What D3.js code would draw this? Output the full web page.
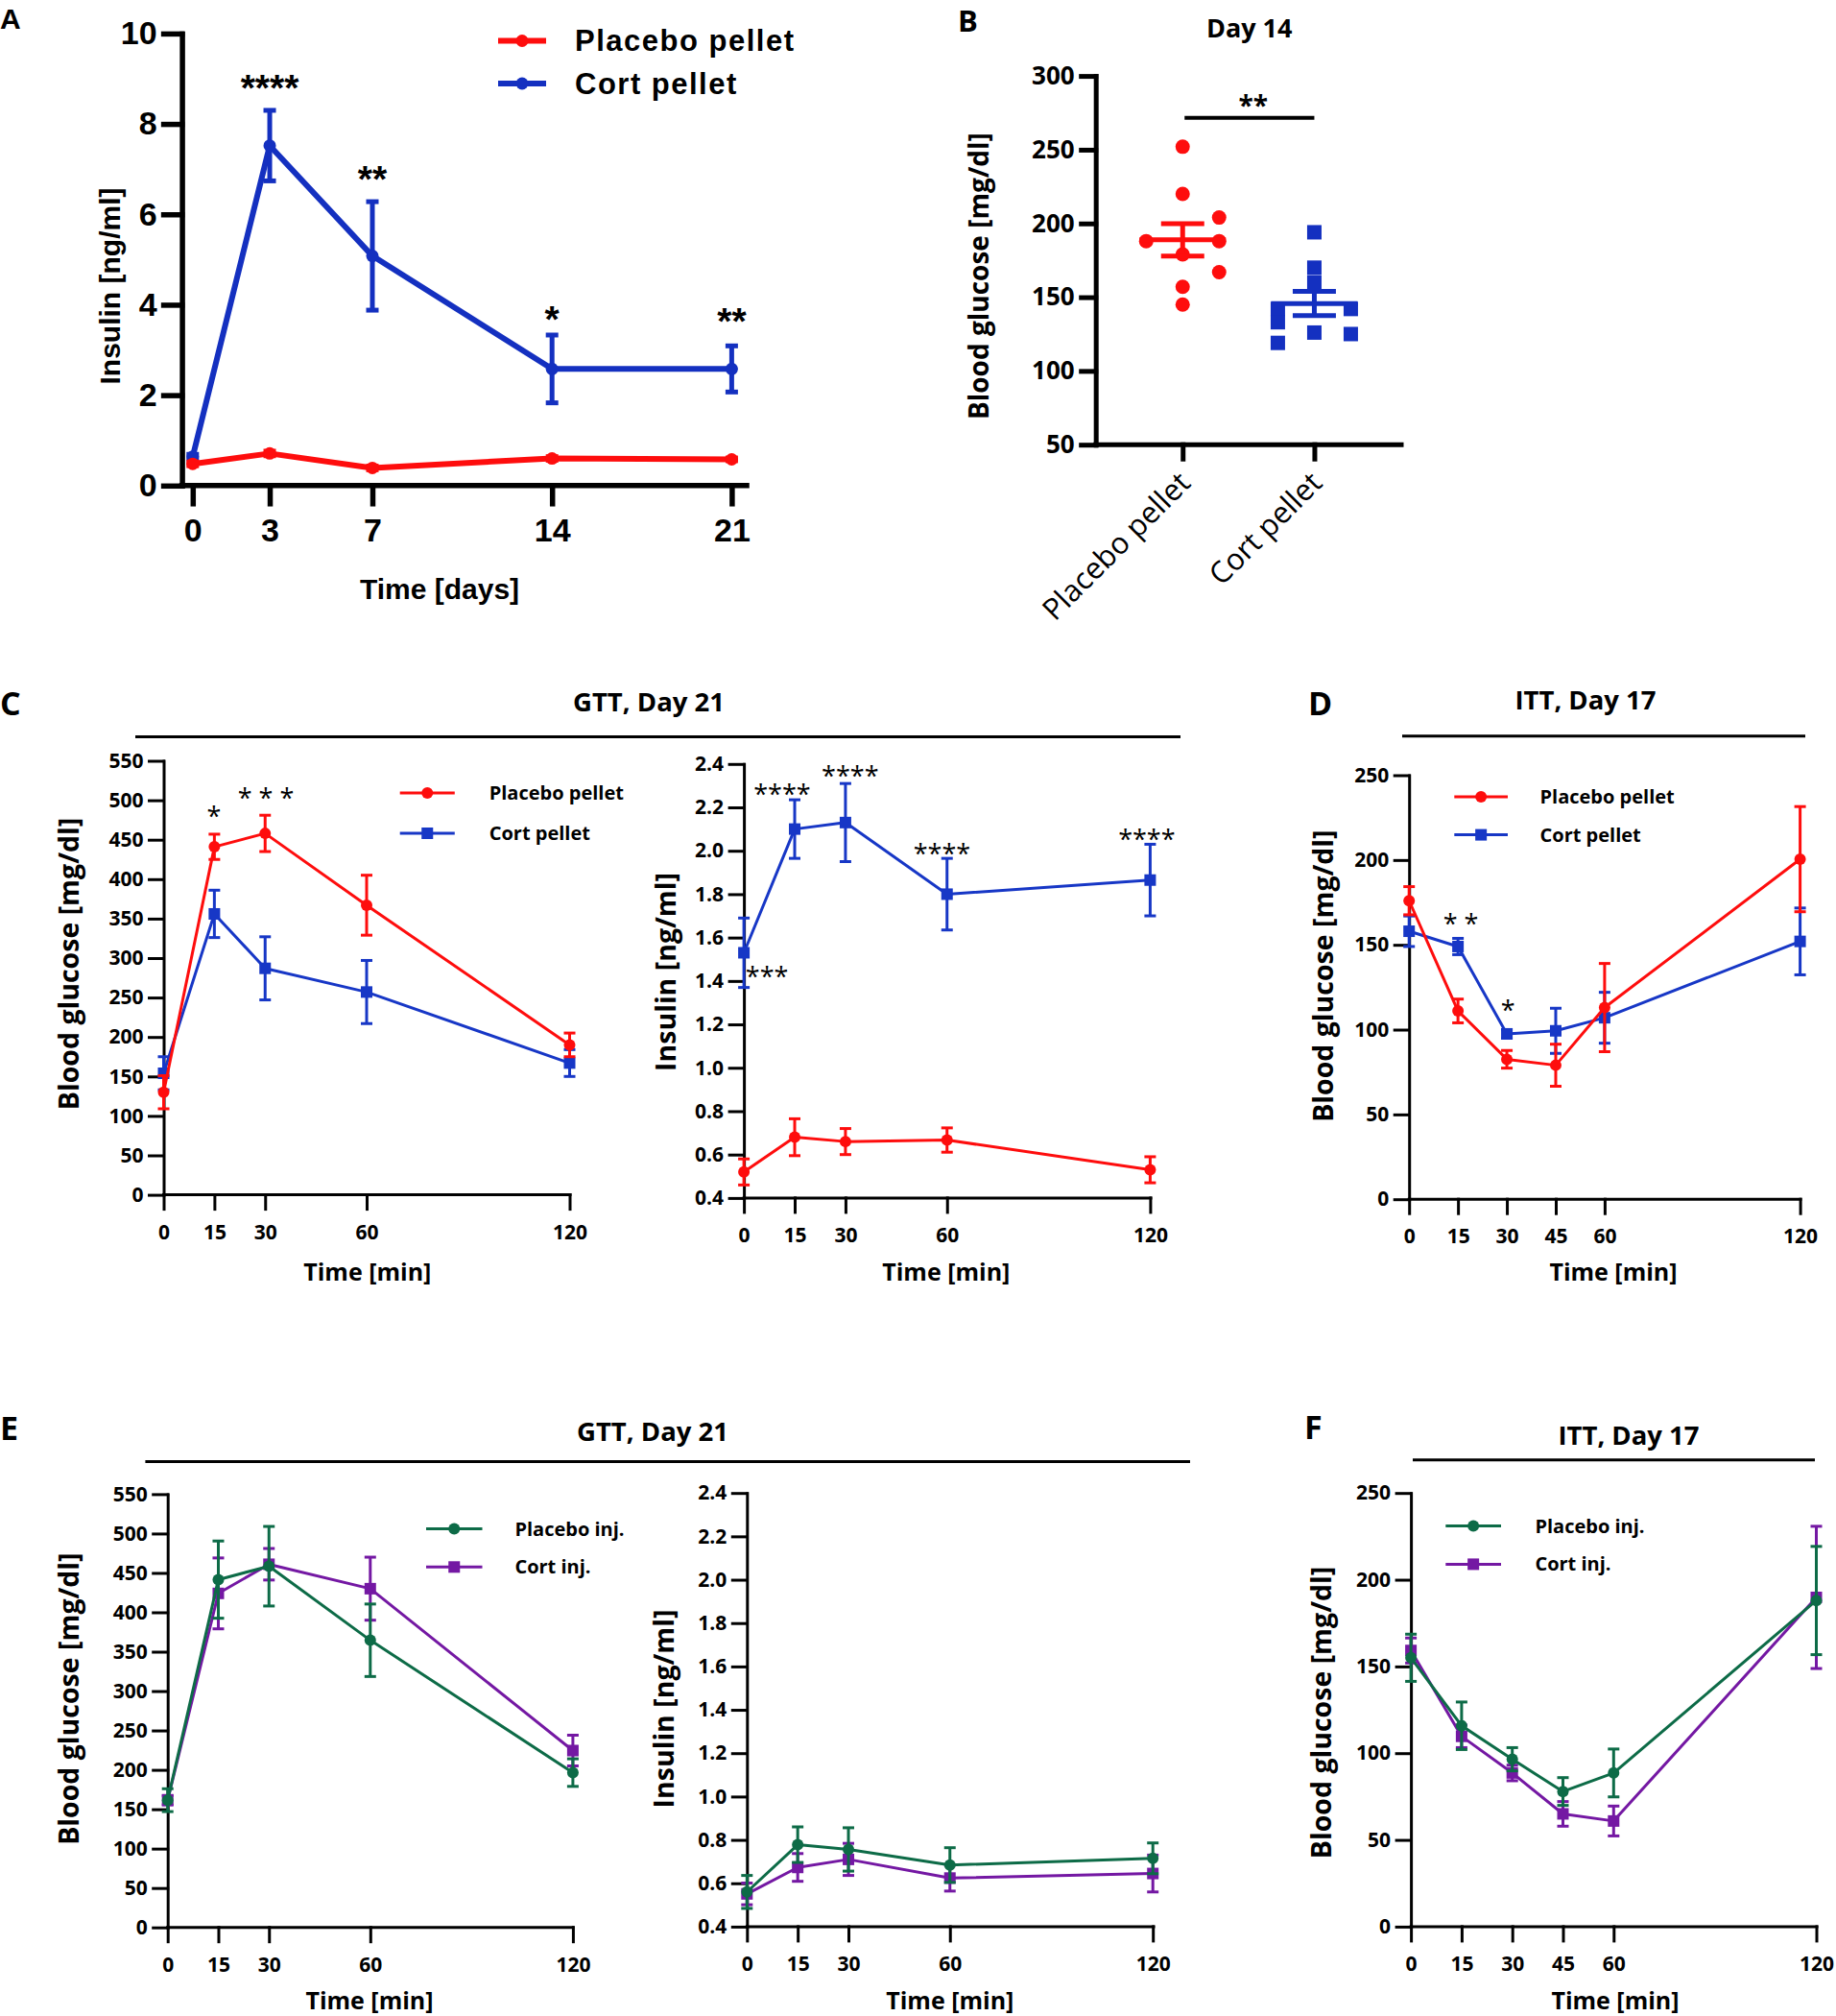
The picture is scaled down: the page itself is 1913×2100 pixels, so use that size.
<!DOCTYPE html>
<html>
<head>
<meta charset="utf-8">
<script src="https://cdn.jsdelivr.net/npm/d3@7"></script>
<style>
body { margin: 0; background: #fff; }
</style>
</head>
<body>
<svg id="fig" width="1913" height="2100"></svg>
<script>
// ------------------------------------------------------------------
//  data
// ------------------------------------------------------------------
// A : insulin over the pellet period
const daysA = [0, 3, 7, 14, 21]
const insPlaceboA = [0.48, 0.71, 0.39, 0.60, 0.58]
const insPlaceboA_sem = [0.04, 0.05, 0.04, 0.04, 0.03]
const insCortA = [0.64, 7.52, 5.08, 2.58, 2.58]
const insCortA_sem = [0.05, 0.78, 1.20, 0.75, 0.51]
const starsA = [[3, 8.95, "****"], [7, 6.92, "**"], [14, 3.82, "*"], [21, 3.78, "**"]]

// B : day 14 blood glucose, single animals (slot = swarm column)
const groupsB = ["Placebo pellet", "Cort pellet"]
const glucPlaceboB = [252, 220, 204, 188, 188, 179, 167, 157, 145]
const slotPlaceboB = [0, 0, 1, -1, 1, 0, 1, 0, 0]
const glucCortB = [194, 170, 160, 142, 142, 133, 126, 125, 119]
const slotCortB = [0, 0, 0, -1, 1, -1, 0, 1, -1]

// C : GTT day 21, pellets
const timesGTT = [0, 15, 30, 60, 120]
const glucPlaceboC = [130, 441, 458, 367, 190]
const glucPlaceboC_sem = [21, 16, 23, 38, 15]
const glucCortC = [154, 356, 287, 257, 167]
const glucCortC_sem = [21, 30, 40, 40, 17]
const insPlaceboC = [0.52, 0.68, 0.66, 0.667, 0.53]
const insPlaceboC_sem = [0.06, 0.085, 0.06, 0.056, 0.06]
const insCortC = [1.53, 2.10, 2.13, 1.80, 1.865]
const insCortC_sem = [0.16, 0.135, 0.18, 0.165, 0.165]
const starsCglu = [[14.9, 487, "*"], [30.2, 510, "* * *"]]
const starsCins = [[6.8, 1.445, "***"], [11.3, 2.289, "****"], [31.4, 2.372, "****"], [58.5, 2.014, "****"], [119, 2.08, "****"]]

// D : ITT day 17, pellets
const timesITT = [0, 15, 30, 45, 60, 120]
const glucPlaceboD = [176, 111, 82.5, 79, 113, 200.5]
const glucPlaceboD_sem = [8.3, 7, 5.2, 12.4, 26, 31]
const glucCortD = [158, 149, 97.5, 99.3, 107, 152]
const glucCortD_sem = [9, 4.8, 2.5, 13.3, 15, 19.7]
const starsD = [[15.85, 166, "* *"], [30.3, 115, "*"]]

// E : GTT day 21, injections
const glucPlaceboE = [161.5, 441.5, 458.5, 364.5, 196.5]
const glucPlaceboE_sem = [14.5, 49, 50.5, 46, 17.5]
const glucCortE = [161.5, 424, 461, 430, 224.5]
const glucCortE_sem = [6, 45, 20, 40, 19.5]
const insPlaceboE = [0.56, 0.778, 0.756, 0.684, 0.715]
const insPlaceboE_sem = [0.076, 0.082, 0.1, 0.08, 0.071]
const insCortE = [0.551, 0.673, 0.71, 0.624, 0.645]
const insCortE_sem = [0.05, 0.064, 0.074, 0.06, 0.085]

// F : ITT day 17, injections
const glucPlaceboF = [155, 115.8, 96.5, 77.9, 88.6, 188]
const glucPlaceboF_sem = [13.6, 13.7, 6.7, 8, 13.8, 31.2]
const glucCortF = [159.2, 109.7, 88.6, 65, 60.9, 189.8]
const glucCortF_sem = [7.2, 6.5, 4.5, 7.1, 8.6, 41]

const ticksGlu550 = d3.range(0, 551, 50)
const ticksIns24 = d3.range(0.4, 2.41, 0.2)
const ticksGlu250 = d3.range(0, 251, 50)

// colours
const RED = "#fe0d0d"
const BLUE_A = "#1430c0"
const BLUE = "#1737c6"
const GREEN = "#0d6b47"
const PURPLE = "#7418a3"

const HELV = '"Liberation Sans", Arial, Helvetica, sans-serif'
const SANS = '"Open Sans", "DejaVu Sans", sans-serif'

const svg = d3.select("#fig")

// ------------------------------------------------------------------
function marker (sel, shape, cx, cy, size, color)
{
	if (shape == "circle")
		sel.append("circle").attr("cx", cx).attr("cy", cy).attr("r", size).attr("fill", color)
	else
		sel.append("rect").attr("x", cx - size).attr("y", cy - size)
			.attr("width", 2 * size).attr("height", 2 * size).attr("fill", color)
}

function styleAxis (a, p)
{
	a.selectAll("path,line").attr("stroke", "#000").attr("stroke-width", p.axisW)
		.attr("stroke-linecap", "square")
	a.selectAll("text").attr("fill", "#000")
		.style("font-family", p.font).style("font-size", p.tickFs + "px")
		.style("font-weight", "bold")
}

function label (g, txt, x, y, font, size, weight, rotate, anchor)
{
	const t = g.append("text")
		.attr("transform", "translate(" + x + "," + y + ")" + (rotate ? " rotate(" + rotate + ")" : ""))
		.attr("text-anchor", anchor || "middle")
		.attr("dy", "0.35em")
		.style("font-family", font).style("font-size", size + "px")
		.style("font-weight", weight).text(txt)
	return t
}

// ------------------------------------------------------------------
// time course panel with mean +- SEM
function xyPanel (p)
{
	const g = svg.append("g")
	const x = d3.scaleLinear().domain(p.xDomain).range(p.xRange)
	const y = d3.scaleLinear().domain(p.yDomain).range(p.yRange)

	const yAxis = g.append("g")
		.attr("transform", "translate(" + p.yAxisX + ",0)")
		.call(d3.axisLeft(y).tickValues(p.yTicks).tickFormat(p.yFormat)
			.tickSize(p.tickLen).tickSizeOuter(0).tickPadding(p.yPad))
	const xAxis = g.append("g")
		.attr("transform", "translate(0," + p.yRange[0] + ")")
		.call(d3.axisBottom(x).tickValues(p.xValues).tickFormat(d3.format("d"))
			.tickSize(p.tickLen).tickSizeOuter(0).tickPadding(p.xPad))
	xAxis.select(".domain").attr("d", "M" + p.yAxisX + ",0H" + p.xEnd)
	styleAxis(yAxis, p)
	styleAxis(xAxis, p)

	// series, first one drawn last (on top)
	p.series.slice().reverse().forEach(function (s) {
		const pts = p.xValues.map((t, i) => ({t: t, v: s.values[i], e: s.sem[i]}))
		g.append("path").datum(pts)
			.attr("fill", "none").attr("stroke", s.color).attr("stroke-width", p.lineW)
			.attr("stroke-linejoin", "round")
			.attr("d", d3.line().x(d => x(d.t)).y(d => y(d.v)))
		const eb = g.append("g").attr("stroke", s.color).attr("stroke-width", p.errW)
		pts.forEach(function (d) {
			const cx = x(d.t)
			eb.append("line").attr("x1", cx).attr("x2", cx)
				.attr("y1", y(d.v - d.e)).attr("y2", y(d.v + d.e))
			;[d.v - d.e, d.v + d.e].forEach(function (v) {
				eb.append("line").attr("x1", cx - p.capW).attr("x2", cx + p.capW)
					.attr("y1", y(v)).attr("y2", y(v))
			})
		})
		const mk = g.append("g")
		pts.forEach(d => marker(mk, s.shape, x(d.t), y(d.v), p.mSize, s.color))
	})

	// legend
	if (p.legend) {
		p.series.forEach(function (s, i) {
			const ly = p.legend.y + i * p.legend.dy
			g.append("line").attr("x1", p.legend.x1).attr("x2", p.legend.x2)
				.attr("y1", ly).attr("y2", ly)
				.attr("stroke", s.color).attr("stroke-width", p.lineW)
			marker(g, s.shape, (p.legend.x1 + p.legend.x2) / 2, ly, p.mSize, s.color)
			label(g, s.name, p.legend.tx, ly, p.font, p.legend.fs, p.legend.weight, 0, "start")
				.style("letter-spacing", (p.legend.spacing || 0) + "px")
		})
	}

	// significance stars
	;(p.stars || []).forEach(function (st) {
		g.append("text").attr("x", x(st[0])).attr("y", y(st[1]))
			.attr("dy", p.starDy).attr("text-anchor", "middle")
			.style("font-family", p.font).style("font-size", p.starFs + "px")
			.style("font-weight", p.starWeight).text(st[2])
	})

	label(g, p.xTitle, p.xTitlePos[0], p.xTitlePos[1], p.font, p.titleFs, "bold")
	label(g, p.yTitle, p.yTitlePos[0], p.yTitlePos[1], p.font, p.yTitleFs || p.titleFs, "bold", -90)
}

// header with bold title and rule below it
function header (letter, lx, ly, title, tx, ty, x1, x2, ry)
{
	label(svg, letter, lx, ly, SANS, 34, "bold", 0, "start")
	label(svg, title, tx, ty, SANS, 27.5, "bold")
	svg.append("line").attr("x1", x1).attr("x2", x2).attr("y1", ry).attr("y2", ry)
		.attr("stroke", "#000").attr("stroke-width", 3)
}

// ------------------------------------------------------------------
// A
label(svg, "A", 0, 19, HELV, 30, "bold", 0, "start")
xyPanel({
	font: HELV, tickFs: 34, titleFs: 30, starFs: 39, starWeight: "bold", starDy: "0.52em",
	xDomain: [0, 21], xRange: [200.8, 762.4], xEnd: 778, yAxisX: 189.6,
	yDomain: [0, 10], yRange: [505.8, 34.9], yTicks: [0, 2, 4, 6, 8, 10], yFormat: d3.format("d"),
	xValues: daysA, tickLen: 19, xPad: 15, yPad: 7, axisW: 5.5,
	lineW: 6, errW: 5, capW: 6.5, mSize: 6.5,
	series: [
		{name: "Placebo pellet", color: RED, shape: "circle", values: insPlaceboA, sem: insPlaceboA_sem},
		{name: "Cort pellet", color: BLUE_A, shape: "circle", values: insCortA, sem: insCortA_sem}
	],
	legend: {x1: 519, x2: 569, y: 42.5, dy: 44.5, tx: 599, fs: 31, weight: "bold", spacing: 1.5},
	stars: starsA,
	xTitle: "Time [days]", xTitlePos: [458, 613],
	yTitle: "Insulin [ng/ml]", yTitlePos: [114, 298]
})

// ------------------------------------------------------------------
// B : scatter with mean +- SEM
;(function () {
	const g = svg.append("g")
	const p = {font: SANS, tickFs: 26, axisW: 5}
	const yAxisX = 1141.7, xEnd = 1460
	const x = d3.scalePoint().domain(groupsB).range([yAxisX, xEnd]).padding(0.66)
	const y = d3.scaleLinear().domain([50, 300]).range([463.2, 79.1])
	const yAxis = g.append("g").attr("transform", "translate(" + yAxisX + ",0)")
		.call(d3.axisLeft(y).tickValues(d3.range(50, 301, 50)).tickSize(15).tickSizeOuter(0).tickPadding(7))
	const xAxis = g.append("g").attr("transform", "translate(0," + y(50) + ")")
		.call(d3.axisBottom(x).tickSize(15).tickSizeOuter(0).tickFormat(""))
	xAxis.select(".domain").attr("d", "M" + yAxisX + ",0H" + xEnd)
	styleAxis(yAxis, p)
	styleAxis(xAxis, p)

	groupsB.forEach(function (grp) {
		const cx = x(grp)
		label(g, grp, cx - 6, y(50) + 26, SANS, 31, "normal", -45, "end")
			.attr("dy", "0.72em")
	})

	const sets = [
		{grp: groupsB[0], vals: glucPlaceboB, slot: slotPlaceboB, color: RED, shape: "circle"},
		{grp: groupsB[1], vals: glucCortB, slot: slotCortB, color: BLUE_A, shape: "rect"}
	]
	sets.forEach(function (s) {
		const cx = x(s.grp)
		s.vals.forEach((v, i) => marker(g, s.shape, cx + s.slot[i] * 38, y(v), 7.5, s.color))
		const m = d3.mean(s.vals)
		const sem = d3.deviation(s.vals) / Math.sqrt(s.vals.length)
		const eg = g.append("g").attr("stroke", s.color).attr("stroke-width", 5)
		eg.append("line").attr("x1", cx - 45).attr("x2", cx + 45).attr("y1", y(m)).attr("y2", y(m))
		eg.append("line").attr("x1", cx).attr("x2", cx).attr("y1", y(m - sem)).attr("y2", y(m + sem))
		;[m - sem, m + sem].forEach(v =>
			eg.append("line").attr("x1", cx - 22.5).attr("x2", cx + 22.5).attr("y1", y(v)).attr("y2", y(v)))
	})

	// significance bar
	g.append("line").attr("x1", x(groupsB[0]) + 2).attr("x2", x(groupsB[1]))
		.attr("y1", y(271.6)).attr("y2", y(271.6)).attr("stroke", "#000").attr("stroke-width", 4)
	g.append("text").attr("x", (x(groupsB[0]) + x(groupsB[1])) / 2 + 5).attr("y", y(271.6) - 3)
		.attr("text-anchor", "middle").style("font-family", SANS).style("font-size", "28px")
		.style("font-weight", "bold").text("**")

	label(svg, "B", 998, 22, SANS, 31, "bold", 0, "start")
	label(g, "Day 14", 1301.7, 29.6, SANS, 27, "bold")
	label(g, "Blood glucose [mg/dl]", 1020, 287.6, SANS, 28, "bold", -90)
})()

// ------------------------------------------------------------------
// common settings for C - F
const small = {
	font: SANS, tickFs: 21, titleFs: 25, yTitleFs: 28.5, starFs: 27, starWeight: "normal", starDy: "0.58em",
	tickLen: 15, xPad: 16, yPad: 6, axisW: 3,
	lineW: 3, errW: 3, capW: 6, mSize: 6
}
const pelletSeries = (a, as, b, bs) => [
	{name: "Placebo pellet", color: RED, shape: "circle", values: a, sem: as},
	{name: "Cort pellet", color: BLUE, shape: "rect", values: b, sem: bs}
]
const injSeries = (a, as, b, bs) => [
	{name: "Placebo inj.", color: GREEN, shape: "circle", values: a, sem: as},
	{name: "Cort inj.", color: PURPLE, shape: "rect", values: b, sem: bs}
]

// C
header("C", 0, 733.5, "GTT, Day 21", 676, 731, 141, 1230, 767.5)
xyPanel(Object.assign({}, small, {
	xDomain: [0, 120], xRange: [170.5, 593.5], xEnd: 594, yAxisX: 170.5,
	yDomain: [0, 550], yRange: [1244.6, 792.5], yTicks: ticksGlu550, yFormat: d3.format("d"),
	xValues: timesGTT,
	series: pelletSeries(glucPlaceboC, glucPlaceboC_sem, glucCortC, glucCortC_sem),
	legend: {x1: 416.7, x2: 473.8, y: 826, dy: 42, tx: 509.7, fs: 20, weight: "bold"},
	stars: starsCglu,
	xTitle: "Time [min]", xTitlePos: [382.8, 1325],
	yTitle: "Blood glucose [mg/dl]", yTitlePos: [72, 1004]
}))
xyPanel(Object.assign({}, small, {
	xDomain: [0, 120], xRange: [775.1, 1198.4], xEnd: 1199, yAxisX: 775.1,
	yDomain: [0.4, 2.4], yRange: [1247.9, 795.8], yTicks: ticksIns24, yFormat: d3.format(".1f"),
	xValues: timesGTT,
	series: pelletSeries(insPlaceboC, insPlaceboC_sem, insCortC, insCortC_sem),
	stars: starsCins,
	xTitle: "Time [min]", xTitlePos: [985.8, 1325],
	yTitle: "Insulin [ng/ml]", yTitlePos: [693.7, 1012.5]
}))

// D
header("D", 1363, 733.5, "ITT, Day 17", 1652, 729, 1461, 1881, 766.7)
xyPanel(Object.assign({}, small, {
	xDomain: [0, 120], xRange: [1468.2, 1875.6], xEnd: 1876, yAxisX: 1468.2,
	yDomain: [0, 250], yRange: [1249.2, 807.5], yTicks: ticksGlu250, yFormat: d3.format("d"),
	xValues: timesITT,
	series: pelletSeries(glucPlaceboD, glucPlaceboD_sem, glucCortD, glucCortD_sem),
	legend: {x1: 1515.3, x2: 1571, y: 830, dy: 39.6, tx: 1604.5, fs: 20, weight: "bold"},
	stars: starsD,
	xTitle: "Time [min]", xTitlePos: [1681, 1325],
	yTitle: "Blood glucose [mg/dl]", yTitlePos: [1378.6, 1016.7]
}))

// E
header("E", 0, 1488, "GTT, Day 21", 680, 1491, 151.4, 1240, 1522.4)
xyPanel(Object.assign({}, small, {
	xDomain: [0, 120], xRange: [174.7, 596.9], xEnd: 597, yAxisX: 174.7,
	yDomain: [0, 550], yRange: [2007.7, 1556.4], yTicks: ticksGlu550, yFormat: d3.format("d"),
	xValues: timesGTT,
	series: injSeries(glucPlaceboE, glucPlaceboE_sem, glucCortE, glucCortE_sem),
	legend: {x1: 444, x2: 502.5, y: 1592.5, dy: 39.8, tx: 536.4, fs: 20, weight: "bold"},
	xTitle: "Time [min]", xTitlePos: [385, 2084],
	yTitle: "Blood glucose [mg/dl]", yTitlePos: [72, 1769.7]
}))
xyPanel(Object.assign({}, small, {
	xDomain: [0, 120], xRange: [778.3, 1201.2], xEnd: 1202, yAxisX: 778.3,
	yDomain: [0.4, 2.4], yRange: [2006.9, 1555.2], yTicks: ticksIns24, yFormat: d3.format(".1f"),
	xValues: timesGTT,
	series: injSeries(insPlaceboE, insPlaceboE_sem, insCortE, insCortE_sem),
	xTitle: "Time [min]", xTitlePos: [989.8, 2084],
	yTitle: "Insulin [ng/ml]", yTitlePos: [691.7, 1780]
}))

// F
header("F", 1359, 1487.5, "ITT, Day 17", 1697, 1495, 1472, 1891, 1520.7)
xyPanel(Object.assign({}, small, {
	xDomain: [0, 120], xRange: [1470.1, 1892.5], xEnd: 1893, yAxisX: 1470.1,
	yDomain: [0, 250], yRange: [2006.9, 1555.2], yTicks: ticksGlu250, yFormat: d3.format("d"),
	xValues: timesITT,
	series: injSeries(glucPlaceboF, glucPlaceboF_sem, glucCortF, glucCortF_sem),
	legend: {x1: 1506.3, x2: 1564, y: 1589.6, dy: 39.8, tx: 1599.4, fs: 20, weight: "bold"},
	xTitle: "Time [min]", xTitlePos: [1683, 2084],
	yTitle: "Blood glucose [mg/dl]", yTitlePos: [1376.6, 1784]
}))
</script>
</body>
</html>
